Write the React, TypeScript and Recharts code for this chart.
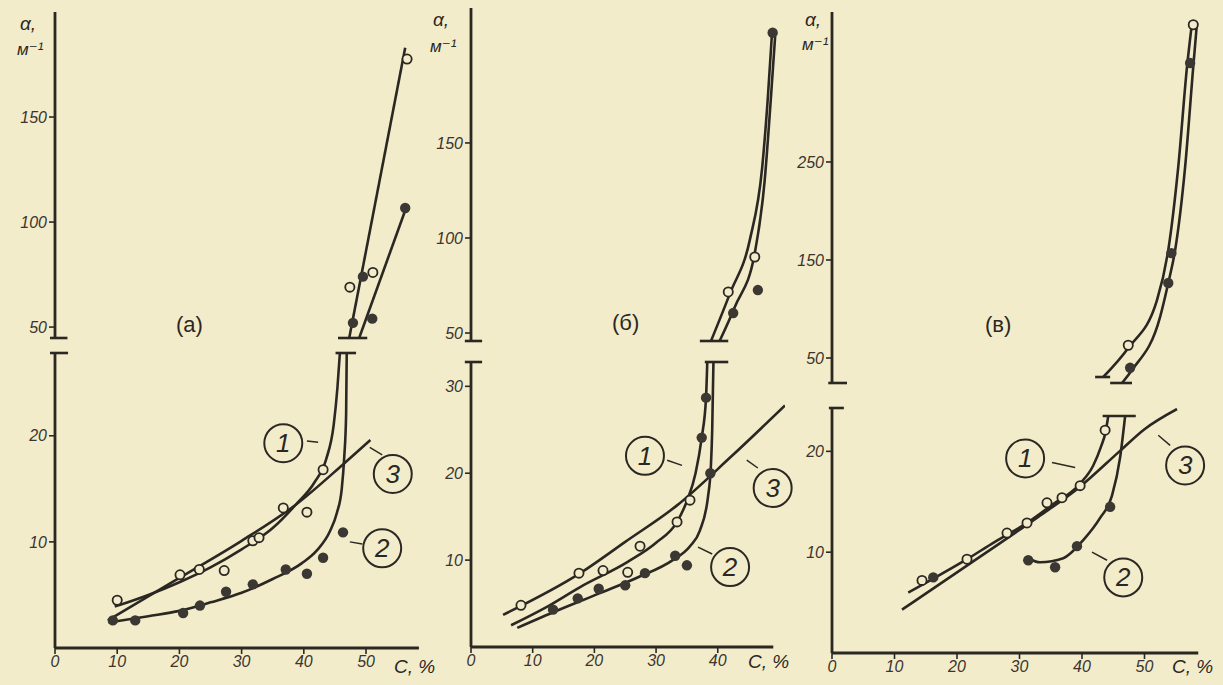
import React from 'react';
import {
  ComposedChart,
  Line,
  Scatter,
  XAxis,
  YAxis,
  ReferenceLine,
  ReferenceDot,
} from 'recharts';

const INK = '#2b2723';
const PAPER = '#f3ecca';
const FONT = '"Liberation Sans", "DejaVu Sans", sans-serif';

// ---- panel (а) ----
const aCurve1 = [[9.6, 3.9], [15, 5.0], [20, 6.2], [25, 7.6], [30, 9.3], [35, 11.3], [38.7, 13.5], [41.7, 15.6], [43.6, 17.8], [44.8, 21], [45.4, 24.5], [45.8, 27.8]];
const aCurve2 = [[8.6, 2.4], [15, 3.0], [20, 3.5], [25, 4.3], [30, 5.2], [35, 6.5], [39.7, 8.0], [42.1, 9.2], [44.2, 11.0], [45.3, 12.7], [46.1, 15], [46.5, 18], [46.8, 22], [46.9, 27.8]];
const aLine3 = [[8.5, 2.6], [20, 6.6], [30, 10.1], [38.7, 13.5], [46.3, 17.3], [50.7, 19.6]];
const aOpen = [[10.0, 4.5], [20.1, 6.9], [23.2, 7.4], [27.2, 7.3], [31.8, 10.1], [32.8, 10.4], [36.7, 13.2], [40.5, 12.8], [43.1, 16.8]];
const aFilled = [[9.3, 2.6], [12.9, 2.6], [20.6, 3.3], [23.3, 4.0], [27.5, 5.3], [31.8, 6.0], [37.1, 7.4], [40.5, 7.0], [43.1, 8.5], [46.3, 10.9]];
const aUp1 = [[47.3, 44.8], [56.3, 183]];
const aUp2 = [[48.9, 44.8], [56.6, 108]];
const aUpOpen = [[47.4, 69], [51.1, 76], [56.6, 177.6]];
const aUpFilled = [[47.9, 52], [49.5, 74], [51, 54], [56.3, 106.7]];

// ---- panel (б) ----
const bCurve1 = [[6.5, 2.5], [12, 4.5], [17.7, 6.9], [25.4, 9.8], [30, 12], [33.4, 14.4], [35, 16.8], [36.4, 20], [37.4, 24.1], [38.1, 28.7], [38.3, 32.8]];
const bCurve2 = [[7.5, 2.2], [14, 4.2], [20.9, 6.2], [27, 8], [32.7, 10], [35.5, 11.6], [37.1, 13.4], [38.4, 17.2], [38.9, 21], [39.1, 25], [39.3, 32.8]];
const bLine3 = [[5.2, 3.7], [17.7, 8.5], [25, 12.1], [33.4, 16.3], [42, 21.8], [50.9, 27.8]];
const bOpen = [[8.1, 4.8], [17.5, 8.5], [21.4, 8.8], [25.4, 8.6], [27.4, 11.6], [33.4, 14.4], [35.5, 16.9]];
const bFilled = [[13.3, 4.3], [17.3, 5.6], [20.7, 6.7], [25, 7.1], [28.2, 8.5], [33.1, 10.5], [35, 9.4], [37.4, 24.1], [38.1, 28.7], [38.8, 20]];
const bUp1 = [[38.9, 45.8], [42, 71], [45.2, 99], [47.2, 137], [48.1, 173], [48.8, 208]];
const bUp2 = [[40.3, 45.8], [42.8, 64], [46, 92], [47.6, 130], [48.6, 173], [49.3, 206]];
const bUpOpen = [[41.7, 71.6], [46, 90]];
const bUpFilled = [[42.5, 60.5], [46.5, 72.6], [48.9, 208]];

// ---- panel (в) ----
const cCurve1 = [[12.2, 6.0], [16, 7.3], [21.6, 9.3], [26, 11], [31.2, 12.9], [35, 14.6], [39.7, 16.8], [41.8, 18.6], [43, 20.4], [43.8, 22], [44.2, 23.5]];
const cCurve2 = [[31.4, 9.4], [33.3, 9.0], [37, 9.4], [40.2, 11.2], [42.9, 13.4], [44.8, 15.6], [46.1, 19.4], [46.9, 23.5]];
const cLine3 = [[11.2, 4.3], [20, 8.0], [26.9, 10.9], [33, 13.5], [39.7, 16.5], [46, 20], [50, 22.2], [55.2, 24.2]];
const cOpen = [[14.4, 7.2], [21.6, 9.3], [28, 11.9], [31.2, 12.9], [34.4, 14.9], [36.8, 15.4], [39.7, 16.6], [43.7, 22.1]];
const cFilled = [[16.2, 7.5], [31.4, 9.2], [35.7, 8.5], [39.2, 10.6], [44.5, 14.5]];
const cUp1 = [[43.4, 30.6], [47.4, 60.2], [52, 109], [53.8, 160], [55.4, 245], [56.8, 347], [57.6, 392]];
const cUp2 = [[46.4, 24.5], [48, 37.8], [52.5, 92], [53.8, 126.5], [54.9, 160], [56.5, 245], [57.8, 347], [58.4, 392]];
const cUpOpen = [[47.4, 63], [57.8, 390]];
const cUpFilled = [[47.7, 40], [53.8, 126.5], [57.3, 351], [54.3, 157]];

// ticks
const xTicksA = [0, 10, 20, 30, 40, 50];
const xTicksB = [0, 10, 20, 30, 40];
const xTicksC = [0, 10, 20, 30, 40, 50];
const yTicksAUp = [50, 100, 150];
const yTicksALow = [10, 20];
const yTicksBUp = [50, 100, 150];
const yTicksBLow = [10, 20, 30];
const yTicksCUp = [50, 150, 250];
const yTicksCLow = [10, 20];

type XY = number[][];
type Seg = number[];
type Tag = { x: number; y: number; text: string };

const toPts = (arr: XY) => arr.map(([x, y]) => ({ x, y }));

const OpenDot = (p: any) => (
  <circle cx={p.cx} cy={p.cy} r={4.6} fill={PAPER} stroke={INK} strokeWidth={1.8} />
);
const FilledDot = (p: any) => <circle cx={p.cx} cy={p.cy} r={5.2} fill='#3b3732' />;

const tagShape = (text: string) => (p: any) => (
  <g>
    <circle cx={p.cx} cy={p.cy} r={19} fill='none' stroke={INK} strokeWidth={2} />
    <text
      x={p.cx}
      y={p.cy + 9}
      textAnchor='middle'
      fontSize={26}
      fontStyle='italic'
      fontFamily={FONT}
      fill={INK}
    >
      {text}
    </text>
  </g>
);

interface SegmentProps {
  left: number;
  top: number;
  width: number;
  height: number;
  xMax: number;
  yDomain: [number, number];
  yTicks: number[];
  xTicks?: number[];
  xEnd?: number;
  curves: { data: XY; type?: 'monotone' | 'linear' }[];
  open: XY;
  filled: XY;
  bars: Seg[];
  leaders?: Seg[];
  tags?: Tag[];
}

function Segment({
  left,
  top,
  width,
  height,
  xMax,
  yDomain,
  yTicks,
  xTicks,
  xEnd,
  curves,
  open,
  filled,
  bars,
  leaders = [],
  tags = [],
}: SegmentProps) {
  const padL = 60;
  const padR = 34;
  const padT = 24;
  const axisH = 34;
  const showX = !!xTicks;
  const tickStyle = { fill: '#3a3530', fontSize: 16, fontStyle: 'italic', fontFamily: FONT };

  return (
    <div style={{ position: 'absolute', left: left - padL, top: top - padT }}>
      <ComposedChart
        width={width + padL + padR}
        height={height + padT + (showX ? axisH : padT)}
        margin={{ top: padT, right: padR, bottom: showX ? 0 : padT, left: 0 }}
      >
        <XAxis
          type='number'
          dataKey='x'
          domain={[0, xMax]}
          allowDataOverflow
          hide={!showX}
          ticks={xTicks}
          interval={0}
          height={axisH}
          tick={tickStyle}
          tickSize={6}
          tickLine={{ stroke: INK, strokeWidth: 1.6 }}
          axisLine={false}
        />
        <YAxis
          type='number'
          dataKey='y'
          domain={yDomain}
          allowDataOverflow
          ticks={yTicks}
          interval={0}
          width={padL}
          tick={tickStyle}
          tickSize={6}
          tickLine={{ stroke: INK, strokeWidth: 1.6 }}
          axisLine={{ stroke: INK, strokeWidth: 2.8 }}
        />
        {showX && (
          <ReferenceLine
            segment={[{ x: 0, y: yDomain[0] }, { x: xEnd, y: yDomain[0] }]}
            stroke={INK}
            strokeWidth={2.8}
            ifOverflow='visible'
          />
        )}
        {curves.map((c, i) => (
          <Line
            key={'c' + i}
            data={toPts(c.data)}
            dataKey='y'
            type={c.type ?? 'monotone'}
            stroke={INK}
            strokeWidth={2.6}
            dot={false}
            isAnimationActive={false}
          />
        ))}
        <Scatter data={toPts(open)} dataKey='y' shape={OpenDot} isAnimationActive={false} />
        <Scatter data={toPts(filled)} dataKey='y' shape={FilledDot} isAnimationActive={false} />
        {bars.map((s, i) => (
          <ReferenceLine
            key={'b' + i}
            segment={[{ x: s[0], y: s[1] }, { x: s[2], y: s[3] }]}
            stroke={INK}
            strokeWidth={2.6}
            ifOverflow='visible'
          />
        ))}
        {leaders.map((s, i) => (
          <ReferenceLine
            key={'l' + i}
            segment={[{ x: s[0], y: s[1] }, { x: s[2], y: s[3] }]}
            stroke={INK}
            strokeWidth={1.5}
            ifOverflow='visible'
          />
        ))}
        {tags.map((t, i) => (
          <ReferenceDot
            key={'t' + i}
            x={t.x}
            y={t.y}
            r={19}
            ifOverflow='visible'
            shape={tagShape(t.text)}
          />
        ))}
      </ComposedChart>
    </div>
  );
}

const txt = (left: number, top: number, size: number): React.CSSProperties => ({
  position: 'absolute',
  left,
  top,
  fontSize: size,
  fontStyle: 'italic',
  lineHeight: 1,
  whiteSpace: 'nowrap',
});

export default function App() {
  return (
    <div
      style={{
        position: 'absolute',
        left: 0,
        top: 0,
        width: 1223,
        height: 685,
        background: PAPER,
        overflow: 'hidden',
        fontFamily: FONT,
        color: INK,
      }}
    >
      {/* (а) */}
      <Segment
        left={55}
        top={12}
        width={363.9}
        height={326}
        xMax={58.5}
        yDomain={[44.8, 200]}
        yTicks={yTicksAUp}
        curves={[{ data: aUp1, type: 'linear' }, { data: aUp2, type: 'linear' }]}
        open={aUpOpen}
        filled={aUpFilled}
        bars={[[-0.8, 44.8, 2.0, 44.8], [45.5, 44.8, 50.2, 44.8]]}
      />
      <Segment
        left={55}
        top={353}
        width={363.9}
        height={295}
        xMax={58.5}
        yDomain={[0, 27.8]}
        yTicks={yTicksALow}
        xTicks={xTicksA}
        xEnd={58.5}
        curves={[{ data: aCurve1 }, { data: aCurve2 }, { data: aLine3 }]}
        open={aOpen}
        filled={aFilled}
        bars={[[-0.8, 27.8, 2.1, 27.8], [45.1, 27.8, 48.4, 27.8]]}
        leaders={[[40.5, 19.5, 42.3, 19.4], [50.6, 18.9, 52.6, 18.2], [47.4, 10.0, 49.4, 9.8]]}
        tags={[{ x: 36.7, y: 19.3, text: '1' }, { x: 54.3, y: 16.4, text: '3' }, { x: 52.6, y: 9.4, text: '2' }]}
      />

      {/* (б) */}
      <Segment
        left={471}
        top={8}
        width={314}
        height={333}
        xMax={50.9}
        yDomain={[45.8, 221]}
        yTicks={yTicksBUp}
        curves={[{ data: bUp1 }, { data: bUp2 }]}
        open={bUpOpen}
        filled={bUpFilled}
        bars={[[-1, 45.8, 1.8, 45.8], [37.1, 45.8, 41.7, 45.8]]}
      />
      <Segment
        left={471}
        top={362}
        width={314}
        height={285}
        xMax={50.9}
        yDomain={[0, 32.8]}
        yTicks={yTicksBLow}
        xTicks={xTicksB}
        xEnd={49}
        curves={[{ data: bCurve1 }, { data: bCurve2 }, { data: bLine3 }]}
        open={bOpen}
        filled={bFilled}
        bars={[[-1, 32.8, 1.8, 32.8], [37.9, 32.8, 41.7, 32.8]]}
        leaders={[[31.8, 21.5, 34.2, 20.9], [44.7, 21.5, 46.5, 20.6], [36.8, 11.5, 39.1, 10.7]]}
        tags={[{ x: 28.2, y: 22, text: '1' }, { x: 48.9, y: 18.3, text: '3' }, { x: 42, y: 9.2, text: '2' }]}
      />

      {/* (в) */}
      <Segment
        left={832}
        top={12}
        width={367.5}
        height={371}
        xMax={58.8}
        yDomain={[24.5, 403]}
        yTicks={yTicksCUp}
        curves={[{ data: cUp1 }, { data: cUp2 }]}
        open={cUpOpen}
        filled={cUpFilled}
        bars={[[-0.6, 24.5, 2.4, 24.5], [42.1, 30.6, 44.5, 30.6], [44.5, 24.5, 48, 24.5]]}
      />
      <Segment
        left={832}
        top={408}
        width={367.5}
        height={245}
        xMax={58.8}
        yDomain={[0, 24.3]}
        yTicks={yTicksCLow}
        xTicks={xTicksC}
        xEnd={58.6}
        curves={[{ data: cCurve1 }, { data: cCurve2 }, { data: cLine3 }]}
        open={cOpen}
        filled={cFilled}
        bars={[[-0.5, 24.3, 1.9, 24.3], [43.3, 23.5, 48.6, 23.5]]}
        leaders={[[35.2, 18.9, 38.9, 18.4], [52.2, 21.6, 54.1, 20.6], [41.6, 10, 44, 9.2]]}
        tags={[{ x: 30.9, y: 19.3, text: '1' }, { x: 56.5, y: 18.6, text: '3' }, { x: 46.6, y: 7.5, text: '2' }]}
      />

      {/* axis titles and panel letters */}
      <div style={txt(20, 14, 19)}>α,</div>
      <div style={txt(17, 41, 17)}>м⁻¹</div>
      <div style={txt(433, 10, 19)}>α,</div>
      <div style={txt(430, 38, 17)}>м⁻¹</div>
      <div style={txt(805, 10, 19)}>α,</div>
      <div style={txt(802, 36, 17)}>м⁻¹</div>

      <div style={{ ...txt(176, 314, 22), fontStyle: 'normal' }}>(а)</div>
      <div style={{ ...txt(612, 312, 22), fontStyle: 'normal' }}>(б)</div>
      <div style={{ ...txt(985, 314, 22), fontStyle: 'normal' }}>(в)</div>

      <div style={txt(394, 657, 19)}>С, %</div>
      <div style={txt(748, 652, 19)}>С, %</div>
      <div style={txt(1172, 657, 19)}>С, %</div>
    </div>
  );
}
